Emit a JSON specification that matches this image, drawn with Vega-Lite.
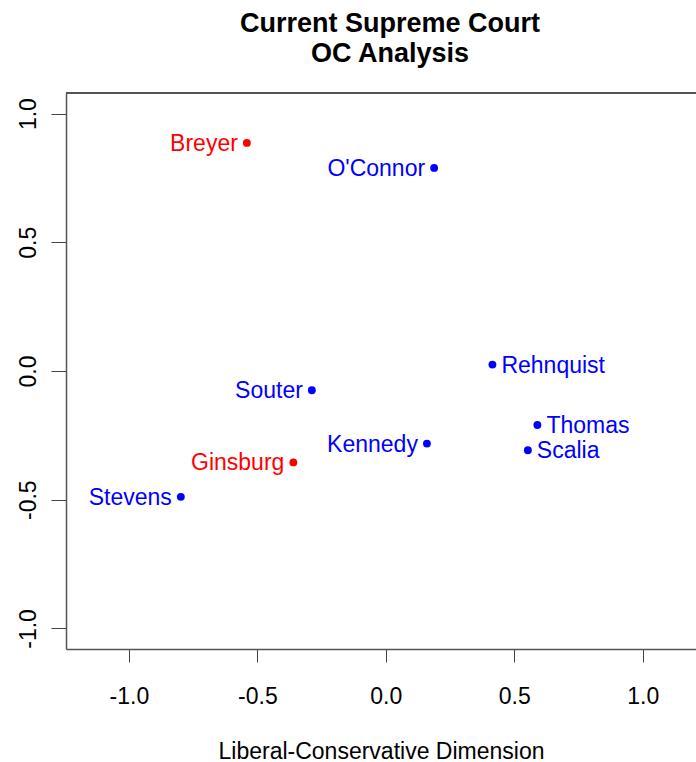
{
  "$schema": "https://vega.github.io/schema/vega-lite/v6.json",
  "width": 630,
  "height": 556,
  "autosize": {"type": "none"},
  "padding": {"left": 66, "top": 93, "right": 0, "bottom": 113},
  "background": "white",
  "title": {
    "text": ["Current Supreme Court", "OC Analysis"],
    "font": "Liberation Sans",
    "fontSize": 27,
    "fontWeight": "bold",
    "color": "black",
    "anchor": "middle",
    "lineHeight": 30,
    "offset": 24,
    "dx": 9
  },
  "config": {
    "view": {"stroke": null},
    "font": "Liberation Sans"
  },
  "data": {
    "values": [
      {"name": "Breyer", "x": -0.541, "y": 0.886, "appointed": "Democratic"},
      {"name": "O'Connor", "x": 0.188, "y": 0.789, "appointed": "Republican"},
      {"name": "Rehnquist", "x": 0.415, "y": 0.025, "appointed": "Republican"},
      {"name": "Souter", "x": -0.288, "y": -0.075, "appointed": "Republican"},
      {"name": "Thomas", "x": 0.59, "y": -0.21, "appointed": "Republican"},
      {"name": "Kennedy", "x": 0.16, "y": -0.282, "appointed": "Republican"},
      {"name": "Scalia", "x": 0.553, "y": -0.308, "appointed": "Republican"},
      {"name": "Ginsburg", "x": -0.36, "y": -0.355, "appointed": "Democratic"},
      {"name": "Stevens", "x": -0.798, "y": -0.489, "appointed": "Republican"}
    ]
  },
  "encoding": {
    "x": {
      "field": "x",
      "type": "quantitative",
      "scale": {"domain": [-1.245, 1.2075], "nice": false, "zero": false},
      "axis": {
        "title": "Liberal-Conservative Dimension",
        "titleFont": "Liberation Sans",
        "titleFontSize": 23,
        "titleFontWeight": "normal",
        "titleColor": "black",
        "titlePadding": 32,
        "values": [-1, -0.5, 0, 0.5, 1],
        "labelExpr": "datum.value < 0 ? '-' + format(-datum.value, '.1f') : format(datum.value, '.1f')",
        "labelFontSize": 23,
        "labelColor": "black",
        "labelPadding": 23,
        "labelFlush": false,
        "tickSize": 13,
        "tickColor": "#444",
        "tickWidth": 1,
        "domainColor": "#555",
        "domainWidth": 1.5,
        "grid": false
      }
    },
    "y": {
      "field": "y",
      "type": "quantitative",
      "scale": {"domain": [-1.08, 1.08], "nice": false, "zero": false},
      "axis": {
        "title": null,
        "values": [-1, -0.5, 0, 0.5, 1],
        "labelExpr": "datum.value < 0 ? '-' + format(-datum.value, '.1f') : format(datum.value, '.1f')",
        "labelFontSize": 23,
        "labelColor": "black",
        "labelAngle": -90,
        "labelAlign": "center",
        "labelBaseline": "alphabetic",
        "labelPadding": 16,
        "labelFlush": false,
        "tickSize": 15,
        "tickColor": "#444",
        "tickWidth": 1,
        "domainColor": "#555",
        "domainWidth": 1.5,
        "grid": false
      }
    },
    "color": {
      "field": "appointed",
      "type": "nominal",
      "scale": {"domain": ["Democratic", "Republican"], "range": ["#ff0000", "#0000ff"]},
      "legend": null
    }
  },
  "layer": [
    {
      "mark": {"type": "circle", "size": 62, "opacity": 1}
    },
    {
      "transform": [{"filter": {"not": {"field": "name", "oneOf": ["Rehnquist", "Thomas", "Scalia"]}}}],
      "mark": {"type": "text", "align": "right", "baseline": "alphabetic", "dx": -9, "dy": 8, "fontSize": 23, "font": "Liberation Sans"},
      "encoding": {"text": {"field": "name"}}
    },
    {
      "transform": [{"filter": {"field": "name", "oneOf": ["Rehnquist", "Thomas", "Scalia"]}}],
      "mark": {"type": "text", "align": "left", "baseline": "alphabetic", "dx": 9, "dy": 8, "fontSize": 23, "font": "Liberation Sans"},
      "encoding": {"text": {"field": "name"}}
    },
    {
      "mark": {"type": "rule", "color": "#555", "strokeWidth": 1.5},
      "encoding": {"y": {"datum": 1.08}, "x": null, "color": null}
    }
  ]
}
